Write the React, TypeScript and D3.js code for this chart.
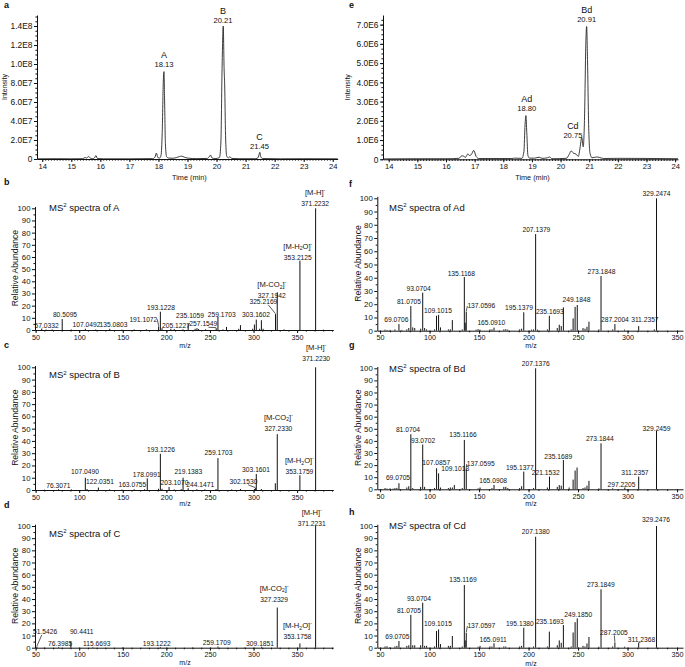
import { useEffect, useRef } from 'react';
import * as d3 from 'd3';

type Pt = [number, number];
interface PeakLabel { v: string; x: number; y: number; ion?: string; lead?: boolean }
interface ChromLabel { name: string; rt: string; t: number; i: number }

const FONT = "'Liberation Sans', Arial, Helvetica, sans-serif";

// ---------- chromatograms (time min, intensity) ----------
const chromA: Pt[] = [
  [13.82, 2e5], [14.5, 3e5], [15.0, 2e5], [15.4, 3e5], [15.47, 1.6e6], [15.52, 1.0e6], [15.6, 2.6e6],
  [15.66, 8e5], [15.74, 3e5], [15.8, 1.2e6], [15.85, 3.6e6], [15.9, 5e5], [16.1, 2e5], [17.0, 2e5],
  [17.8, 4e5], [17.88, 2e6], [17.93, 6.2e6], [17.98, 1.5e6], [18.04, 1.0e6], [18.09, 4e6], [18.13, 2.8e7],
  [18.17, 8.4e7], [18.19, 9.2e7], [18.21, 6.5e7], [18.24, 1.6e7], [18.28, 2.5e6], [18.35, 1.0e6],
  [18.5, 8e5], [18.62, 1.5e6], [18.72, 2.6e6], [18.8, 3.0e6], [18.9, 1.8e6], [19.02, 9e5], [19.3, 4e5],
  [19.68, 6e5], [19.75, 2.5e6], [19.79, 4.2e6], [19.84, 1.2e6], [19.95, 4e5], [20.1, 1.5e6], [20.15, 1.8e7],
  [20.19, 9.5e7], [20.23, 1.4e8], [20.26, 9.5e7], [20.28, 7.8e7], [20.31, 2.5e7], [20.35, 3e6],
  [20.41, 1.2e6], [20.46, 2.4e6], [20.52, 6e5], [20.8, 3e5], [21.35, 3e5], [21.43, 1.5e6], [21.47, 5.5e6],
  [21.49, 7e6], [21.52, 2.5e6], [21.58, 5e5], [22.2, 2e5], [23.0, 3e5], [24.17, 2e5],
];
const chromE: Pt[] = [
  [13.8, 2e4], [15.0, 3e4], [16.0, 3e4], [16.45, 5e4], [16.55, 1.8e5], [16.62, 1.6e5], [16.68, 1.0e5],
  [16.76, 2.8e5], [16.82, 2.0e5], [16.88, 2.4e5], [16.97, 4.6e5], [17.05, 1.5e5], [17.15, 4e4],
  [18.3, 4e4], [18.4, 6e4], [18.65, 5e4], [18.72, 4e5], [18.76, 1.8e6], [18.79, 2.27e6], [18.82, 1.4e6],
  [18.86, 2e5], [18.92, 6e4], [19.1, 6e4], [19.25, 1.1e5], [19.35, 5e4], [19.55, 8e4], [19.62, 1.2e5],
  [19.7, 3e4], [20.2, 5e4], [20.3, 2.5e5], [20.37, 4.3e5], [20.45, 3.2e5], [20.55, 2.6e5], [20.62, 1.5e5],
  [20.68, 6e5], [20.74, 1.14e6], [20.79, 6.5e5], [20.84, 2.4e6], [20.88, 5.9e6], [20.91, 6.9e6],
  [20.94, 5.2e6], [20.98, 1.8e6], [21.03, 3e5], [21.1, 8e4], [21.25, 1.2e5], [21.35, 1.0e5], [21.5, 4e4],
  [22.0, 5e4], [24.1, 3e4],
];
const chromALabels: ChromLabel[] = [
  { name: 'A', rt: '18.13', t: 18.19, i: 1.095e8 },
  { name: 'B', rt: '20.21', t: 20.22, i: 1.558e8 },
  { name: 'C', rt: '21.45', t: 21.48, i: 2.32e7 },
];
const chromELabels: ChromLabel[] = [
  { name: 'Ad', rt: '18.80', t: 18.82, i: 3.14e6 },
  { name: 'Bd', rt: '20.91', t: 20.91, i: 7.76e6 },
  { name: 'Cd', rt: '20.75', t: 20.43, i: 1.75e6 },
];
const timeTicks = [14, 15, 16, 17, 18, 19, 20, 21, 22, 23, 24];
const intTicksA = [0, 2e7, 4e7, 6e7, 8e7, 1e8, 1.2e8, 1.4e8];
const intTicksE = [0, 1e6, 2e6, 3e6, 4e6, 5e6, 6e6, 7e6];
const mzTicks = [50, 100, 150, 200, 250, 300, 350];
const abTicks = [0, 10, 20, 30, 40, 50, 60, 70, 80, 90, 100];

// ---------- MS2 spectra (m/z, relative abundance) ----------
const specA: Pt[] = [
  [57.0332, 1.2], [62, 0.4], [69, 0.5], [80.5095, 9], [91, 0.4], [107.0492, 1], [119, 0.4], [135.0803, 1],
  [149, 0.3], [163, 0.5], [177, 0.6], [191.1072, 3], [193.1228, 15], [195, 1.5], [205.1227, 1], [209, 0.8],
  [219, 0.6], [225, 5], [233, 1], [235.1059, 1.5], [237, 0.8], [245, 0.6], [257.1549, 1.5], [259.1703, 11],
  [265, 0.5], [269, 2.5], [283, 1], [285, 4], [299, 1], [301, 4.5], [303.1602, 8.5], [307, 1], [309, 8],
  [311, 1], [325.2169, 13], [327.1942, 31], [335, 0.5], [353.2125, 57], [371.2232, 100], [380, 0.3],
];
const specB: Pt[] = [
  [60, 0.3], [76.3071, 0.6], [91, 0.5], [107.049, 10], [109, 0.8], [122.0351, 2], [135, 0.5], [149, 0.4],
  [163.0755, 0.6], [175, 0.6], [178.0991, 9.5], [191, 1], [193.1226, 29.5], [195, 1], [203.107, 2.5],
  [209, 0.5], [217, 0.8], [219.1383, 10], [225, 1.5], [235, 0.6], [244.1471, 0.6], [257, 0.8],
  [259.1703, 26], [275, 0.5], [285, 0.8], [301, 0.8], [302.153, 1.5], [303.1601, 13], [309, 0.8], [325, 5.5],
  [327.233, 45.5], [353.1759, 12], [371.223, 100],
];
const specC: Pt[] = [
  [51.5426, 1], [60, 0.3], [76.3985, 0.6], [90.4411, 5], [115.6693, 0.6], [150, 0.3], [193.1222, 0.6],
  [230, 0.3], [259.1709, 1], [290, 0.3], [309.1851, 0.8], [327.2329, 33], [353.1758, 3.5], [371.2231, 100],
];
const specAd: Pt[] = [
  [55, 0.8], [57, 0.5], [60, 0.6], [65, 1], [69.0706, 5], [72, 0.6], [77, 1], [79, 2], [81.0705, 18.6],
  [83, 2.5], [85, 2], [91, 1.5], [93.0704, 28.7], [95, 2], [97, 1], [105, 1], [107, 11.3], [109.1015, 12],
  [111, 2.5], [119, 1], [121, 1], [123, 8], [133, 1], [135.1168, 40.5], [136, 6], [137.0596, 14.4],
  [147, 0.8], [149, 1.2], [151, 0.8], [161, 1], [163, 1], [165.091, 2.3], [175, 1], [177, 1.2], [179, 0.8],
  [191, 1], [193, 1.5], [195.1379, 13.9], [203, 0.8], [205, 1], [207.1379, 73], [209, 0.8], [219, 1],
  [221, 11.3], [229, 2], [231, 4.5], [233, 3.5], [235.1693, 17.6], [243, 1], [245, 9.3], [247, 18],
  [249.1848, 19.4], [255, 2], [257, 1.5], [259, 3], [261, 6.8], [271, 1], [273.1848, 41.3], [285, 1],
  [287.2004, 5], [297, 0.8], [311.2357, 3.5], [327, 1], [329.2474, 100],
];
const specBd: Pt[] = [
  [55, 1], [57, 0.6], [60, 0.8], [63, 0.5], [65, 1], [67, 1.2], [69.0705, 5], [77, 1.5], [79, 2.5],
  [81.0704, 45.5], [83, 1], [91, 2], [93.0702, 37], [95, 2], [105, 1], [107.0857, 17.4], [109.1013, 13.2],
  [111, 1.5], [119, 1], [121, 1.5], [123, 1.5], [125, 3.5], [133, 1], [135.1166, 40.8], [137.0595, 17.4],
  [149, 0.8], [151, 1.5], [163, 1], [165.0908, 3.6], [175, 2], [177, 2], [179, 1], [191, 1], [193, 2.5],
  [195.1377, 14.6], [205, 1], [207.1376, 100], [219, 1.5], [221.1532, 10.5], [229, 2], [231, 3.5],
  [233, 3], [235.1689, 24.2], [241, 1.5], [245, 8], [247, 15.5], [249, 18], [255, 1], [257, 1.5], [259, 3],
  [261, 7], [271, 0.8], [273.1844, 38], [285, 0.8], [297.2205, 1.5], [311.2357, 10.5], [329.2459, 48.2],
];
const specCd: Pt[] = [
  [55, 1], [57, 1.2], [60, 0.5], [65, 1], [67, 1.5], [69.0705, 5.5], [77, 1.5], [79, 2], [81.0705, 27],
  [83, 2], [85, 2], [91, 2], [93.0704, 37], [95, 1.5], [97, 1.5], [105, 1], [107, 13.7], [109.1015, 15],
  [111, 3], [119, 1.5], [121, 1.5], [123, 9.6], [133, 1], [135.1169, 51.5], [136, 6], [137.0597, 12.3],
  [149, 0.8], [151, 1.5], [161, 1], [163, 1], [165.0911, 3.6], [175, 1], [177, 1], [191, 1], [193, 1.5],
  [195.138, 16.4], [205, 1], [207.138, 91.2], [219, 1], [221, 13.2], [229, 2], [231, 6], [233, 4],
  [235.1693, 18.6], [243, 1], [245, 12.5], [247, 21], [249.185, 24.1], [255, 1.5], [257, 1], [259, 3.5],
  [261, 8.8], [271, 0.8], [273.1849, 48], [285, 1], [287.2005, 4.4], [297, 0.8], [311.2368, 4.1],
  [329.2476, 100],
];

// label anchors (m/z, abundance of the label centre)
const specALabels: PeakLabel[] = [
  { v: '371.2232', x: 370.6, y: 104.1, ion: 'MH' }, { v: '353.2125', x: 350.8, y: 59.7, ion: 'MH2O' },
  { v: '327.1942', x: 320.9, y: 27.9, ion: 'MCO2' }, { v: '325.2169', x: 311.3, y: 23.3, lead: true },
  { v: '303.1602', x: 302.9, y: 12.3 }, { v: '259.1703', x: 263.6, y: 12.3 }, { v: '235.1059', x: 227.2, y: 11.5 },
  { v: '257.1549', x: 242.4, y: 4.9, lead: true }, { v: '205.1227', x: 211.1, y: 3.3 },
  { v: '193.1228', x: 193.9, y: 18.3 }, { v: '191.1072', x: 173.6, y: 8.8, lead: true },
  { v: '135.0803', x: 139.3, y: 4.1 }, { v: '107.0492', x: 108.3, y: 4.1 }, { v: '80.5095', x: 83.7, y: 12.3 },
  { v: '57.0332', x: 62.7, y: 3.3 },
];
const specBLabels: PeakLabel[] = [
  { v: '371.2230', x: 371.8, y: 106.8, ion: 'MH' }, { v: '353.1759', x: 352.6, y: 14.9, ion: 'MH2O' },
  { v: '327.2330', x: 328.5, y: 50.3, ion: 'MCO2' }, { v: '303.1601', x: 302.9, y: 16.3 },
  { v: '302.1530', x: 288.4, y: 6.8, lead: true }, { v: '259.1703', x: 259.7, y: 30.4 },
  { v: '244.1471', x: 238.8, y: 4.1 }, { v: '219.1383', x: 225.2, y: 14.9 }, { v: '203.1070', x: 209.3, y: 5.9 },
  { v: '193.1226', x: 193.9, y: 32.6 }, { v: '178.0991', x: 177.5, y: 12.8 }, { v: '163.0755', x: 161, y: 4.6 },
  { v: '122.0351', x: 123.9, y: 6.8 }, { v: '107.0490', x: 106.7, y: 14.9 }, { v: '76.3071', x: 76.1, y: 3.5 },
];
const specCLabels: PeakLabel[] = [
  { v: '371.2231', x: 366.8, y: 101.6, ion: 'MH' }, { v: '353.1758', x: 350.3, y: 9, ion: 'MH2O' },
  { v: '327.2329', x: 323.6, y: 39.8, ion: 'MCO2' }, { v: '309.1851', x: 307.5, y: 3.6 },
  { v: '259.1709', x: 257.8, y: 4.1 }, { v: '193.1222', x: 189, y: 3.6 }, { v: '115.6693', x: 120.1, y: 3.6 },
  { v: '90.4411', x: 102.9, y: 13.1 }, { v: '76.3985', x: 78, y: 3.6 }, { v: '51.5426', x: 60.8, y: 13.1, lead: true },
];
const specAdLabels: PeakLabel[] = [
  { v: '329.2474', x: 329.3, y: 103.8 }, { v: '273.1848', x: 273.7, y: 44.9 }, { v: '311.2357', x: 317.5, y: 8.1 },
  { v: '287.2004', x: 287.2, y: 8.1 }, { v: '249.1848', x: 248.4, y: 23.2 }, { v: '235.1693', x: 221.5, y: 14.4 },
  { v: '207.1379', x: 207.9, y: 76.5 }, { v: '195.1379', x: 190.4, y: 17.7 }, { v: '165.0910', x: 162.4, y: 6.3 },
  { v: '137.0596', x: 152.3, y: 18.7, lead: true }, { v: '135.1168', x: 132.1, y: 43.4 },
  { v: '109.1015', x: 108.5, y: 15.1 }, { v: '93.0704', x: 89, y: 31.5 }, { v: '81.0705', x: 79.2, y: 21.9 },
  { v: '69.0706', x: 66.4, y: 8.1 },
];
const specBdLabels: PeakLabel[] = [
  { v: '329.2459', x: 329.3, y: 50.4 }, { v: '311.2357', x: 307.4, y: 13.7 }, { v: '297.2205', x: 293.9, y: 3.6 },
  { v: '273.1844', x: 272, y: 42.1 }, { v: '235.1689', x: 229.9, y: 26.9 }, { v: '221.1532', x: 217.4, y: 13.7 },
  { v: '207.1376', x: 207.3, y: 104.1 }, { v: '195.1377', x: 191.2, y: 17.9 }, { v: '165.0908', x: 164.2, y: 6.9 },
  { v: '137.0595', x: 151.7, y: 20.9, lead: true }, { v: '135.1166', x: 133.8, y: 45.5 },
  { v: '109.1013', x: 126, y: 17.3 }, { v: '107.0857', x: 106.8, y: 22 }, { v: '93.0702', x: 93.4, y: 39.9 },
  { v: '81.0704', x: 78.2, y: 49 }, { v: '69.0705', x: 68.1, y: 9.6 },
];
const specCdLabels: PeakLabel[] = [
  { v: '329.2476', x: 328.7, y: 104.9 }, { v: '311.2368', x: 314.1, y: 6.9, lead: true },
  { v: '287.2005', x: 286.2, y: 12.7, lead: true }, { v: '273.1849', x: 273, y: 52.1 },
  { v: '249.1850', x: 250.1, y: 26.9 }, { v: '235.1693', x: 221.5, y: 21.4 }, { v: '207.1380', x: 207.3, y: 95.3 },
  { v: '195.1380', x: 191.2, y: 20 }, { v: '165.0911', x: 164.2, y: 6.9 },
  { v: '137.0597', x: 152.3, y: 17.8, lead: true }, { v: '135.1169', x: 133.8, y: 55.6 },
  { v: '109.1015', x: 108.5, y: 19.5 }, { v: '93.0704', x: 89.3, y: 40.3 }, { v: '81.0705', x: 79.2, y: 30.2 },
  { v: '69.0705', x: 67.4, y: 9 },
];

const ionParts: Record<string, [string, string][]> = {
  MH: [['[M-H]', ''], ['-', 'sup']],
  MH2O: [['[M-H', ''], ['2', 'sub'], ['O]', ''], ['-', 'sup']],
  MCO2: [['[M-CO', ''], ['2', 'sub'], [']', ''], ['-', 'sup']],
};

const fmtE = (d: number) => {
  if (d === 0) return '0';
  const e = Math.floor(Math.log10(d) + 1e-9);
  return `${(d / Math.pow(10, e)).toFixed(1)}E${e}`;
};

type G = d3.Selection<SVGGElement, unknown, null, undefined>;

function styleText(s: any, size: number) {
  s.selectAll('text').attr('font-family', FONT).attr('font-size', size).attr('fill', '#111');
  s.selectAll('line').attr('stroke', '#111');
  s.select('.domain').attr('stroke', '#111');
}

function drawAxes(g: G, x: d3.ScaleLinear<number, number>, y: d3.ScaleLinear<number, number>, o: {
  xTicks: number[]; xMinor: number[]; yTicks: number[]; yMinor: number[];
  xFont: number; yFont: number; yFmt: (d: number) => string;
}) {
  const y0 = y.range()[0];
  const x0 = x.range()[0];
  g.append('g').attr('transform', `translate(0,${y0})`)
    .call(d3.axisBottom(x).tickValues(o.xMinor).tickSize(1.6).tickFormat(() => ''))
    .call(s => s.select('.domain').remove())
    .call(s => styleText(s, o.xFont));
  g.append('g').attr('transform', `translate(0,${y0})`)
    .call(d3.axisBottom(x).tickValues(o.xTicks).tickSize(3).tickSizeOuter(0).tickPadding(1.5)
      .tickFormat(d => String(d)))
    .call(s => styleText(s, o.xFont));
  g.append('g').attr('transform', `translate(${x0},0)`)
    .call(d3.axisLeft(y).tickValues(o.yMinor).tickSize(1.6).tickFormat(() => ''))
    .call(s => s.select('.domain').remove())
    .call(s => styleText(s, o.yFont));
  g.append('g').attr('transform', `translate(${x0},0)`)
    .call(d3.axisLeft(y).tickValues(o.yTicks).tickSize(3).tickSizeOuter(0).tickPadding(1.5)
      .tickFormat(d => o.yFmt(d as number)))
    .call(s => styleText(s, o.yFont));
}

function addText(g: G, x: number, y: number, text: string, size: number, opts: any = {}) {
  return g.append('text').attr('x', x).attr('y', y).text(text)
    .attr('font-family', FONT).attr('font-size', size).attr('fill', '#111')
    .attr('text-anchor', opts.anchor || 'middle')
    .attr('font-weight', opts.bold ? 'bold' : null)
    .attr('transform', opts.rotate ? `rotate(-90,${x},${y})` : null);
}

interface ChromCfg {
  data: Pt[]; labels: ChromLabel[]; yTicks: number[]; yMinorStep: number;
  t0: number; t1: number; x0: number; x1: number; y0: number; yTop: number; iMax: number;
  letter: string; letterX: number; ylabX: number;
}

function drawChrom(svg: G, c: ChromCfg) {
  const g = svg.append('g');
  const x = d3.scaleLinear().domain([c.t0, c.t1]).range([c.x0, c.x1]);
  const y = d3.scaleLinear().domain([0, c.iMax]).range([c.y0, c.yTop]);
  drawAxes(g, x, y, {
    xTicks: timeTicks, xMinor: d3.range(14, 24.05, 0.1), yTicks: c.yTicks,
    yMinor: d3.range(0, c.iMax, c.yMinorStep), xFont: 7.6, yFont: 8.4, yFmt: fmtE,
  });
  const line = d3.line<Pt>().x(d => x(d[0])).y(d => y(d[1])).curve(d3.curveMonotoneX);
  g.append('path').datum(c.data).attr('d', line).attr('fill', 'none')
    .attr('stroke', '#1a1a1a').attr('stroke-width', 0.85);
  c.labels.forEach(l => {
    addText(g, x(l.t), y(l.i) + 3.2, l.name, 9);
    addText(g, x(l.t), y(l.i) + 12.4, l.rt, 7.6);
  });
  addText(g, c.letterX, 8, c.letter, 9, { anchor: 'start', bold: true });
  addText(g, c.ylabX, (c.y0 + c.yTop) / 2, 'Intensity', 7, { rotate: true }).attr('dy', '0.35em');
  addText(g, (c.x0 + c.x1) / 2 + 2, 180, 'Time (min)', 7.3);
}

interface SpecCfg {
  peaks: Pt[]; labels: PeakLabel[]; title: string; letter: string;
  side: 'L' | 'R'; y0: number; y100: number; letterY: number; titleY: number; mzY: number;
}

function drawSpec(svg: G, c: SpecCfg) {
  const g = svg.append('g');
  const L = c.side === 'L';
  const x = L
    ? d3.scaleLinear().domain([49.3, 391.5]).range([35, 333.3])
    : d3.scaleLinear().domain([47.2, 356]).range([377.3, 683]);
  const k = (c.y0 - c.y100) / 100;
  const top = 101.5;
  const y = d3.scaleLinear().domain([0, top]).range([c.y0, c.y0 - top * k]);
  drawAxes(g, x, y, {
    xTicks: mzTicks, xMinor: d3.range(50, L ? 391 : 356, 10), yTicks: abTicks,
    yMinor: d3.range(5, 100, 10), xFont: 7.2, yFont: 7.8, yFmt: d => String(d),
  });
  g.append('g').selectAll('line').data(c.peaks).join('line')
    .attr('x1', d => x(d[0])).attr('x2', d => x(d[0]))
    .attr('y1', y(0)).attr('y2', d => y(d[1]))
    .attr('stroke', '#111').attr('stroke-width', 1);

  const fs = 6.7;
  c.labels.forEach(l => {
    const lx = x(l.x);
    const ly = y(l.y);
    const t = addText(g, lx, ly, l.v, fs).attr('dy', '0.35em');
    if (l.lead) {
      const mz = parseFloat(l.v);
      const pk = c.peaks.reduce((a, b) => (Math.abs(b[0] - mz) < Math.abs(a[0] - mz) ? b : a));
      const px = x(pk[0]);
      const py = y(pk[1]) - 0.5;
      const w = (t.node() as SVGTextElement).getComputedTextLength();
      let ex = lx;
      let ey = ly + 3;
      if (px > lx + w / 2) { ex = lx + w / 2; ey = ly; }
      else if (px < lx - w / 2) { ex = lx - w / 2; ey = ly; }
      else { ex = lx + (px - lx) * 0.4; ey = ly + 3.2; }
      g.append('line').attr('x1', px).attr('y1', py).attr('x2', ex).attr('y2', ey)
        .attr('stroke', '#111').attr('stroke-width', 0.7);
    }
    if (l.ion) {
      const it = g.append('text').attr('x', lx).attr('y', ly - 8.7).attr('dy', '0.35em')
        .attr('font-family', FONT).attr('font-size', 7.6).attr('fill', '#111').attr('text-anchor', 'middle');
      let shift = 0;
      ionParts[l.ion].forEach(([s, kind]) => {
        const target = kind === 'sup' ? -3 : kind === 'sub' ? 1.8 : 0;
        it.append('tspan').attr('dy', target - shift).attr('font-size', kind ? 5 : 7.6).text(s);
        shift = target;
      });
    }
  });

  const tx = L ? 49 : 389;
  const tt = g.append('text').attr('x', tx).attr('y', c.titleY).attr('font-family', FONT)
    .attr('font-size', 9.5).attr('fill', '#111');
  tt.append('tspan').text('MS');
  tt.append('tspan').attr('dy', -3.5).attr('font-size', 6).text('2');
  tt.append('tspan').attr('dy', 3.5).text(' ' + c.title);

  addText(g, L ? 4 : 349, c.letterY, c.letter, 9, { anchor: 'start', bold: true });
  addText(g, L ? 15 : 358, (c.y0 + c.y100) / 2 - 1, 'Relative Abundance', 8.6, { rotate: true }).attr('dy', '0.35em');
  addText(g, L ? 185 : 531, c.mzY, 'm/z', 7);
}

const App = () => {
  const ref = useRef<SVGSVGElement>(null);

  useEffect(() => {
    if (!ref.current) return;
    const root = d3.select(ref.current);
    root.selectAll('*').remove();
    const svg = root.append('g') as unknown as G;

    drawChrom(svg, {
      data: chromA, labels: chromALabels, yTicks: intTicksA, yMinorStep: 5e6,
      t0: 13.82, t1: 24.17, x0: 37, x1: 337.7, y0: 159, yTop: 15, iMax: 1.516e8,
      letter: 'a', letterX: 4, ylabX: 5,
    });
    drawChrom(svg, {
      data: chromE, labels: chromELabels, yTicks: intTicksE, yMinorStep: 2.5e5,
      t0: 13.8, t1: 24.1, x0: 383, x1: 678, y0: 159.3, yTop: 15, iMax: 7.5e6,
      letter: 'e', letterX: 349, ylabX: 348,
    });

    drawSpec(svg, { peaks: specA, labels: specALabels, title: 'spectra of A', letter: 'b', side: 'L',
      y0: 330, y100: 208.3, letterY: 185, titleY: 210.5, mzY: 347.5 });
    drawSpec(svg, { peaks: specB, labels: specBLabels, title: 'spectra of B', letter: 'c', side: 'L',
      y0: 490, y100: 367.3, letterY: 348, titleY: 378, mzY: 505.5 });
    drawSpec(svg, { peaks: specC, labels: specCLabels, title: 'spectra of C', letter: 'd', side: 'L',
      y0: 647.7, y100: 526, letterY: 507.5, titleY: 536.5, mzY: 665 });
    drawSpec(svg, { peaks: specAd, labels: specAdLabels, title: 'spectra of Ad', letter: 'f', side: 'R',
      y0: 330.7, y100: 198.3, letterY: 186.7, titleY: 210.5, mzY: 347.8 });
    drawSpec(svg, { peaks: specBd, labels: specBdLabels, title: 'spectra of Bd', letter: 'g', side: 'R',
      y0: 489.3, y100: 368.3, letterY: 348, titleY: 371.5, mzY: 505.5 });
    drawSpec(svg, { peaks: specCd, labels: specCdLabels, title: 'spectra of Cd', letter: 'h', side: 'R',
      y0: 647.7, y100: 526, letterY: 515, titleY: 529, mzY: 665.5 });
  }, []);

  return (
    <svg ref={ref} width={685} height={667}
      style={{ position: 'absolute', left: 0, top: 0, background: '#fff', display: 'block' }} />
  );
};

export default App;
